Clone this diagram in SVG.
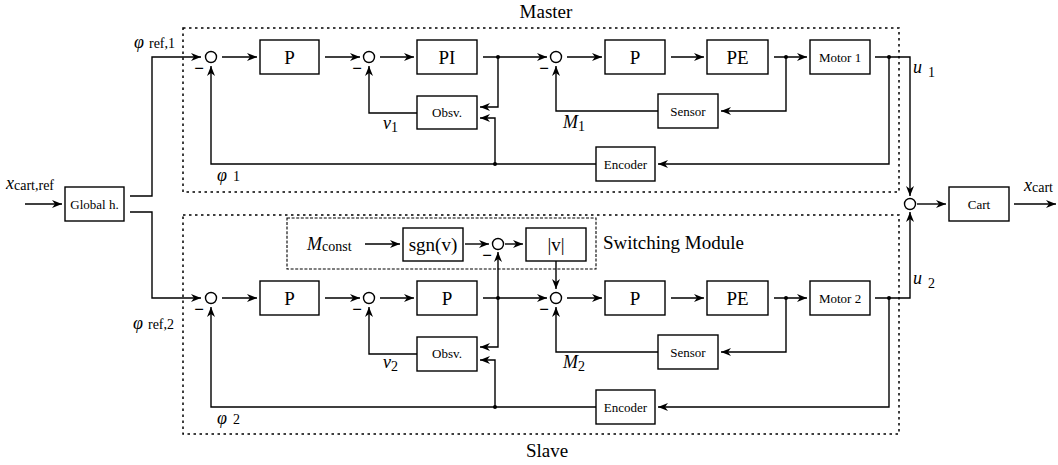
<svg xmlns="http://www.w3.org/2000/svg" width="1058" height="465" viewBox="0 0 1058 465">
  <defs>
    <marker id="arr" viewBox="0 0 10 8" refX="10" refY="4" markerWidth="10" markerHeight="8" orient="auto" markerUnits="userSpaceOnUse">
      <path d="M0,0 L10,4 L0,8 L3,4 z" fill="#000"/>
    </marker>
    <style>
      .box { fill: #fff; stroke: #000; stroke-width: 1.4; }
      .sum { fill: #fff; stroke: #000; stroke-width: 1.4; }
      .ln { fill: none; stroke: #000; stroke-width: 1.4; }
      .ar { fill: none; stroke: #000; stroke-width: 1.4; marker-end: url(#arr); }
      .dot { fill: #000; }
      .frame { fill: none; stroke: #000; stroke-width: 1.5; stroke-dasharray: 2.5 3.5; }
      .dash { fill: none; stroke: #000; stroke-width: 1.1; stroke-dasharray: 3 1.6; }
      text { font-family: "Liberation Serif", "Times New Roman", serif; fill: #000; }
      .big { font-size: 19px; text-anchor: middle; }
      .sm { font-size: 13px; text-anchor: middle; }
      .title { font-size: 19px; }
      .math { font-size: 18px; font-style: italic; }
      .sub { font-size: 14px; font-style: normal; }
      .minus { font-size: 17px; font-weight: bold; text-anchor: middle; }
    </style>
  </defs>

  <!-- subsystem frames -->
  <g id="frames">
    <rect class="frame" x="183" y="28" width="716" height="164"/>
    <rect class="frame" x="183" y="215" width="716" height="219"/>
    <rect class="dash" x="287" y="218" width="309" height="51"/>
    <text class="title" x="546" y="18" text-anchor="middle">Master</text>
    <text class="title" x="547" y="457" text-anchor="middle">Slave</text>
    <text class="title" x="603" y="249">Switching Module</text>
  </g>

  <!-- connectors -->
  <g id="connectors">
    <!-- global input and split -->
    <path class="ar" d="M25,204 H62"/>
    <path class="ar" d="M130,196 H152 V57 H201"/>
    <path class="ar" d="M130,212 H152 V298 H201"/>

    <!-- master chain -->
    <path class="ar" d="M222,57 H257"/>
    <path class="ar" d="M325,57 H360"/>
    <path class="ar" d="M380,57 H414"/>
    <path class="ar" d="M483,57 H547"/>
    <path class="ar" d="M567,57 H602"/>
    <path class="ar" d="M671,57 H704"/>
    <path class="ar" d="M774,57 H807"/>
    <path class="ar" d="M875,57 H910 V196"/>
    <path class="ar" d="M498,57 V107 H480"/>
    <path class="ar" d="M495,164 V118 H480"/>
    <path class="ar" d="M417,113 H369 V66"/>
    <path class="ar" d="M786,57 V111 H721"/>
    <path class="ar" d="M658,111 H556 V66"/>
    <path class="ar" d="M889,57 V164 H658"/>
    <path class="ar" d="M596,164 H211 V66"/>

    <!-- slave chain -->
    <path class="ar" d="M222,298 H257"/>
    <path class="ar" d="M325,298 H360"/>
    <path class="ar" d="M380,298 H414"/>
    <path class="ar" d="M483,298 H547"/>
    <path class="ar" d="M567,298 H602"/>
    <path class="ar" d="M671,298 H704"/>
    <path class="ar" d="M774,298 H807"/>
    <path class="ar" d="M875,298 H910 V212"/>
    <path class="ar" d="M498,298 V252"/>
    <path class="ar" d="M498,298 V347 H480"/>
    <path class="ar" d="M495,407 V360 H480"/>
    <path class="ar" d="M417,354 H369 V307"/>
    <path class="ar" d="M786,298 V352 H721"/>
    <path class="ar" d="M658,352 H556 V307"/>
    <path class="ar" d="M889,298 V407 H658"/>
    <path class="ar" d="M596,407 H211 V307"/>

    <!-- switching module -->
    <path class="ar" d="M365,244 H400"/>
    <path class="ar" d="M465,244 H489"/>
    <path class="ar" d="M505,244 H523"/>
    <path class="ar" d="M556,261 V289"/>

    <!-- cart -->
    <path class="ar" d="M917,204 H946"/>
    <path class="ar" d="M1014,204 H1056"/>

    <!-- branch points -->
    <circle class="dot" cx="498" cy="57" r="2"/>
    <circle class="dot" cx="495" cy="164" r="2"/>
    <circle class="dot" cx="786" cy="57" r="2"/>
    <circle class="dot" cx="889" cy="57" r="2"/>
    <circle class="dot" cx="498" cy="298" r="2"/>
    <circle class="dot" cx="495" cy="407" r="2"/>
    <circle class="dot" cx="786" cy="298" r="2"/>
    <circle class="dot" cx="889" cy="298" r="2"/>
  </g>

  <!-- global nodes -->
  <g id="global-h">
    <rect class="box" x="65" y="187" width="59" height="34"/>
    <text class="sm" x="94.5" y="208.5">Global h.</text>
  </g>
  <g id="cart">
    <rect class="box" x="949" y="187" width="60" height="34"/>
    <text class="sm" x="979" y="208.5">Cart</text>
  </g>
  <g id="sum-cart"><circle class="sum" cx="910" cy="204" r="5.5"/></g>

  <!-- master nodes -->
  <g id="m-sum1"><circle class="sum" cx="211" cy="57" r="5.5"/><text class="minus" x="199" y="74">−</text></g>
  <g id="m-p1"><rect class="box" x="260" y="40" width="59" height="34"/><text class="big" x="289.5" y="64">P</text></g>
  <g id="m-sum2"><circle class="sum" cx="369" cy="57" r="5.5"/><text class="minus" x="357" y="74">−</text></g>
  <g id="m-pi"><rect class="box" x="417" y="40" width="60" height="34"/><text class="big" x="447" y="64">PI</text></g>
  <g id="m-sum3"><circle class="sum" cx="556" cy="57" r="5.5"/><text class="minus" x="544" y="74">−</text></g>
  <g id="m-p2"><rect class="box" x="605" y="40" width="60" height="34"/><text class="big" x="635" y="64">P</text></g>
  <g id="m-pe"><rect class="box" x="707" y="40" width="61" height="34"/><text class="big" x="737.5" y="64">PE</text></g>
  <g id="m-motor"><rect class="box" x="810" y="40" width="60" height="34"/><text class="sm" x="840" y="61.5">Motor 1</text></g>
  <g id="m-obsv"><rect class="box" x="417" y="96" width="60" height="33"/><text class="sm" x="447" y="116.5">Obsv.</text></g>
  <g id="m-sensor"><rect class="box" x="658" y="94" width="60" height="34"/><text class="sm" x="688" y="115.5">Sensor</text></g>
  <g id="m-encoder"><rect class="box" x="596" y="147" width="59" height="34"/><text class="sm" x="625.5" y="168.5">Encoder</text></g>

  <!-- slave nodes -->
  <g id="s-sum1"><circle class="sum" cx="211" cy="298" r="5.5"/><text class="minus" x="199" y="315">−</text></g>
  <g id="s-p1"><rect class="box" x="260" y="281" width="59" height="34"/><text class="big" x="289.5" y="305">P</text></g>
  <g id="s-sum2"><circle class="sum" cx="369" cy="298" r="5.5"/><text class="minus" x="357" y="315">−</text></g>
  <g id="s-p2"><rect class="box" x="417" y="281" width="60" height="34"/><text class="big" x="447" y="305">P</text></g>
  <g id="s-sum3"><circle class="sum" cx="556" cy="298" r="5.5"/><text class="minus" x="544" y="315">−</text></g>
  <g id="s-p3"><rect class="box" x="605" y="281" width="60" height="34"/><text class="big" x="635" y="305">P</text></g>
  <g id="s-pe"><rect class="box" x="707" y="281" width="61" height="34"/><text class="big" x="737.5" y="305">PE</text></g>
  <g id="s-motor"><rect class="box" x="810" y="281" width="60" height="34"/><text class="sm" x="840" y="302.5">Motor 2</text></g>
  <g id="s-obsv"><rect class="box" x="417" y="337" width="60" height="34"/><text class="sm" x="447" y="358">Obsv.</text></g>
  <g id="s-sensor"><rect class="box" x="658" y="335" width="60" height="34"/><text class="sm" x="688" y="356.5">Sensor</text></g>
  <g id="s-encoder"><rect class="box" x="596" y="390" width="59" height="34"/><text class="sm" x="625.5" y="411.5">Encoder</text></g>

  <!-- switching module nodes -->
  <g id="sw-sgn"><rect class="box" x="403" y="228" width="60" height="33"/><text class="big" x="433" y="251">sgn(v)</text></g>
  <g id="sw-sum"><circle class="sum" cx="498" cy="244" r="5.5"/><text class="minus" x="487" y="261">−</text></g>
  <g id="sw-abs"><rect class="box" x="526" y="228" width="60" height="33"/><text class="big" x="556" y="251">|v|</text></g>

  <!-- signal labels -->
  <g id="labels">
    <text class="math" x="6" y="189">x<tspan class="sub" dy="1">cart,ref</tspan></text>
    <text class="math" x="1024" y="191">x<tspan class="sub" dy="1">cart</tspan></text>
    <text class="math" x="134" y="48">φ<tspan class="sub" dx="5">ref,1</tspan></text>
    <text class="math" x="133" y="329">φ<tspan class="sub" dx="5">ref,2</tspan></text>
    <text class="math" x="217" y="181">φ<tspan class="sub" dx="6">1</tspan></text>
    <text class="math" x="217" y="424">φ<tspan class="sub" dx="6">2</tspan></text>
    <text class="math" x="383" y="129">v<tspan class="sub" dy="3">1</tspan></text>
    <text class="math" x="383" y="368">v<tspan class="sub" dy="3">2</tspan></text>
    <text class="math" x="563" y="128">M<tspan class="sub" dy="3">1</tspan></text>
    <text class="math" x="563" y="368">M<tspan class="sub" dy="3">2</tspan></text>
    <text class="math" x="913" y="73">u<tspan class="sub" dx="6" dy="4">1</tspan></text>
    <text class="math" x="913" y="284">u<tspan class="sub" dx="6" dy="4">2</tspan></text>
    <text class="math" x="307" y="250" font-size="20">M<tspan class="sub" font-size="15" dy="1">const</tspan></text>
  </g>
</svg>
